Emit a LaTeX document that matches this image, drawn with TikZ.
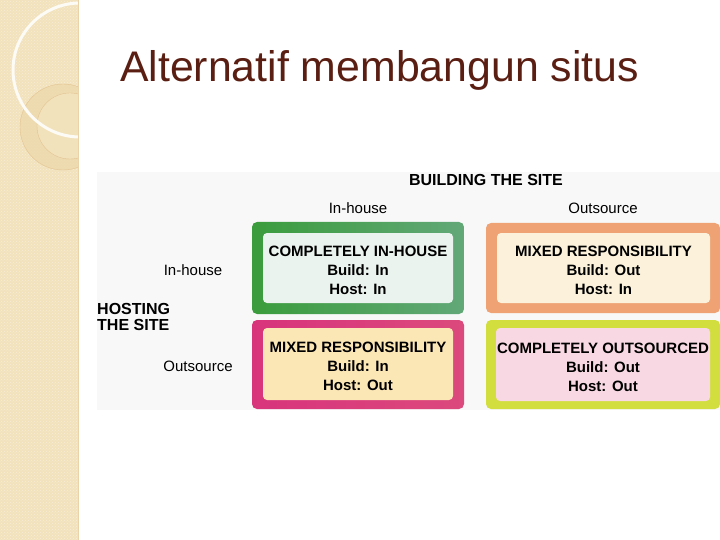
\documentclass[tikz,border=0pt]{standalone}
\usepackage{fontspec}
\setmainfont{Liberation Sans}
\usepackage{tikz}
\usetikzlibrary{positioning,calc,patterns}
\usepackage{xcolor}
\definecolor{Sand}{HTML}{F2E2BC}
\definecolor{SandLight}{HTML}{F6EBD0}
\definecolor{SandRing}{HTML}{EDD9AC}
\definecolor{Cocoa}{HTML}{5A1E12}
\definecolor{PanelGray}{HTML}{F8F8F8}
\definecolor{LeafGreen}{HTML}{3A9C3C}
\definecolor{SkyTint}{HTML}{A6D6EE}
\definecolor{SageGreen}{HTML}{62A878}
\definecolor{MintPale}{HTML}{EBF3EE}
\definecolor{Apricot}{HTML}{EFA274}
\definecolor{Butter}{HTML}{F4E6A2}
\definecolor{Cream}{HTML}{FCF2DC}
\definecolor{Magenta}{HTML}{D8347C}
\definecolor{Marigold}{HTML}{F2C246}
\definecolor{Wheat}{HTML}{FBE6B6}
\definecolor{Lime}{HTML}{D2DE3E}
\definecolor{Coral}{HTML}{EAA07A}
\definecolor{Blush}{HTML}{F8D8E2}

\begin{document}
\begin{tikzpicture}[x=1pt,y=-1pt,
  every node/.style={font=\fontsize{15}{19}\selectfont,inner sep=0pt},
  axislabel/.style={font=\fontsize{15}{17}\selectfont},
  axistitle/.style={font=\fontsize{16}{16}\selectfont\bfseries,align=left},
  cellouter/.style={rounded corners=5pt,shading angle=90},
  cellpanel/.style={rounded corners=4pt},
  celltext/.style={align=center,font=\fontsize{15}{19}\selectfont\bfseries}]
  \useasboundingbox (0,0) rectangle (720,540);
  \fill[white] (0,0) rectangle (720,540);
  % left strip
  \begin{scope}
    \clip (0,0) rectangle (78,540);
    \fill[Sand] (0,0) rectangle (78,540);
    \fill[pattern=crosshatch dots,pattern color=Sand!60!white] (0,0) rectangle (78,540);
    \fill[SandLight,opacity=0.8] (0,0) -- (64,0) arc[start angle=0,end angle=-90,radius=64] -- cycle;
    \draw[SandRing!75!brown,line width=0.4pt,fill=SandRing,fill opacity=0.8] (63,127) circle[radius=43];
    \draw[SandRing!75!brown,line width=0.4pt,fill=Sand] (70,126) circle[radius=33];
    \draw[white!85!Sand,line width=3pt] (80,70) circle[radius=67];
  \end{scope}
  \draw[Sand!85!brown,line width=0.5pt] (78,0) -- (78,540);
  % title
  \node[anchor=base west,text=Cocoa,font=\fontsize{42.8}{46}\selectfont] (title) at (120,82) {Alternatif membangun situs};
  % matrix panel
  \fill[PanelGray] (97,172) rectangle (720,410);
  \node[axistitle] (build) at (486,180) {BUILDING THE SITE};
  \node[axislabel] (colin) at (358,208) {In-house};
  \node[axislabel] (colout) at (603,208) {Outsource};
  \node[axislabel] (rowin) at (193,270) {In-house};
  \node[axistitle,anchor=west] (host) at (97,317) {HOSTING\\THE SITE};
  \node[axislabel] (rowout) at (198,366) {Outsource};
  % cells
  \shade[cellouter,left color=LeafGreen,middle color=SkyTint,right color=SageGreen] (252,222) rectangle (464,314);
  \node[cellpanel,fill=MintPale,minimum width=190pt,minimum height=70pt] (inin) at (358,268) {};
  \node[celltext] (inintext) at ([yshift=-2.5pt]inin.center) {COMPLETELY IN-HOUSE\\Build: In\\Host: In};
  \shade[cellouter,left color=Apricot,middle color=Butter,right color=Apricot] (486,223) rectangle (720,313);
  \node[cellpanel,fill=Cream,minimum width=213pt,minimum height=70pt] (outin) at (603.5,268) {};
  \node[celltext] (outintext) at ([yshift=-2.5pt]outin.center) {MIXED RESPONSIBILITY\\Build: Out\\Host: In};
  \shade[cellouter,left color=Magenta,middle color=Marigold!70!Coral,right color=Magenta!80!Coral] (252,320) rectangle (464,409);
  \node[cellpanel,fill=Wheat,minimum width=190pt,minimum height=72pt] (inout) at (358,364) {};
  \node[celltext] (inouttext) at ([yshift=-2.5pt]inout.center) {MIXED RESPONSIBILITY\\Build: In\\Host: Out};
  \shade[cellouter,left color=Lime,middle color=Coral!80!Lime,right color=Lime] (486,320) rectangle (720,409);
  \node[cellpanel,fill=Blush,minimum width=214pt,minimum height=73pt] (outout) at (603,364.5) {};
  \node[celltext] (outouttext) at ([yshift=-2.5pt]outout.center) {COMPLETELY OUTSOURCED\\Build: Out\\Host: Out};
\end{tikzpicture}
\end{document}
